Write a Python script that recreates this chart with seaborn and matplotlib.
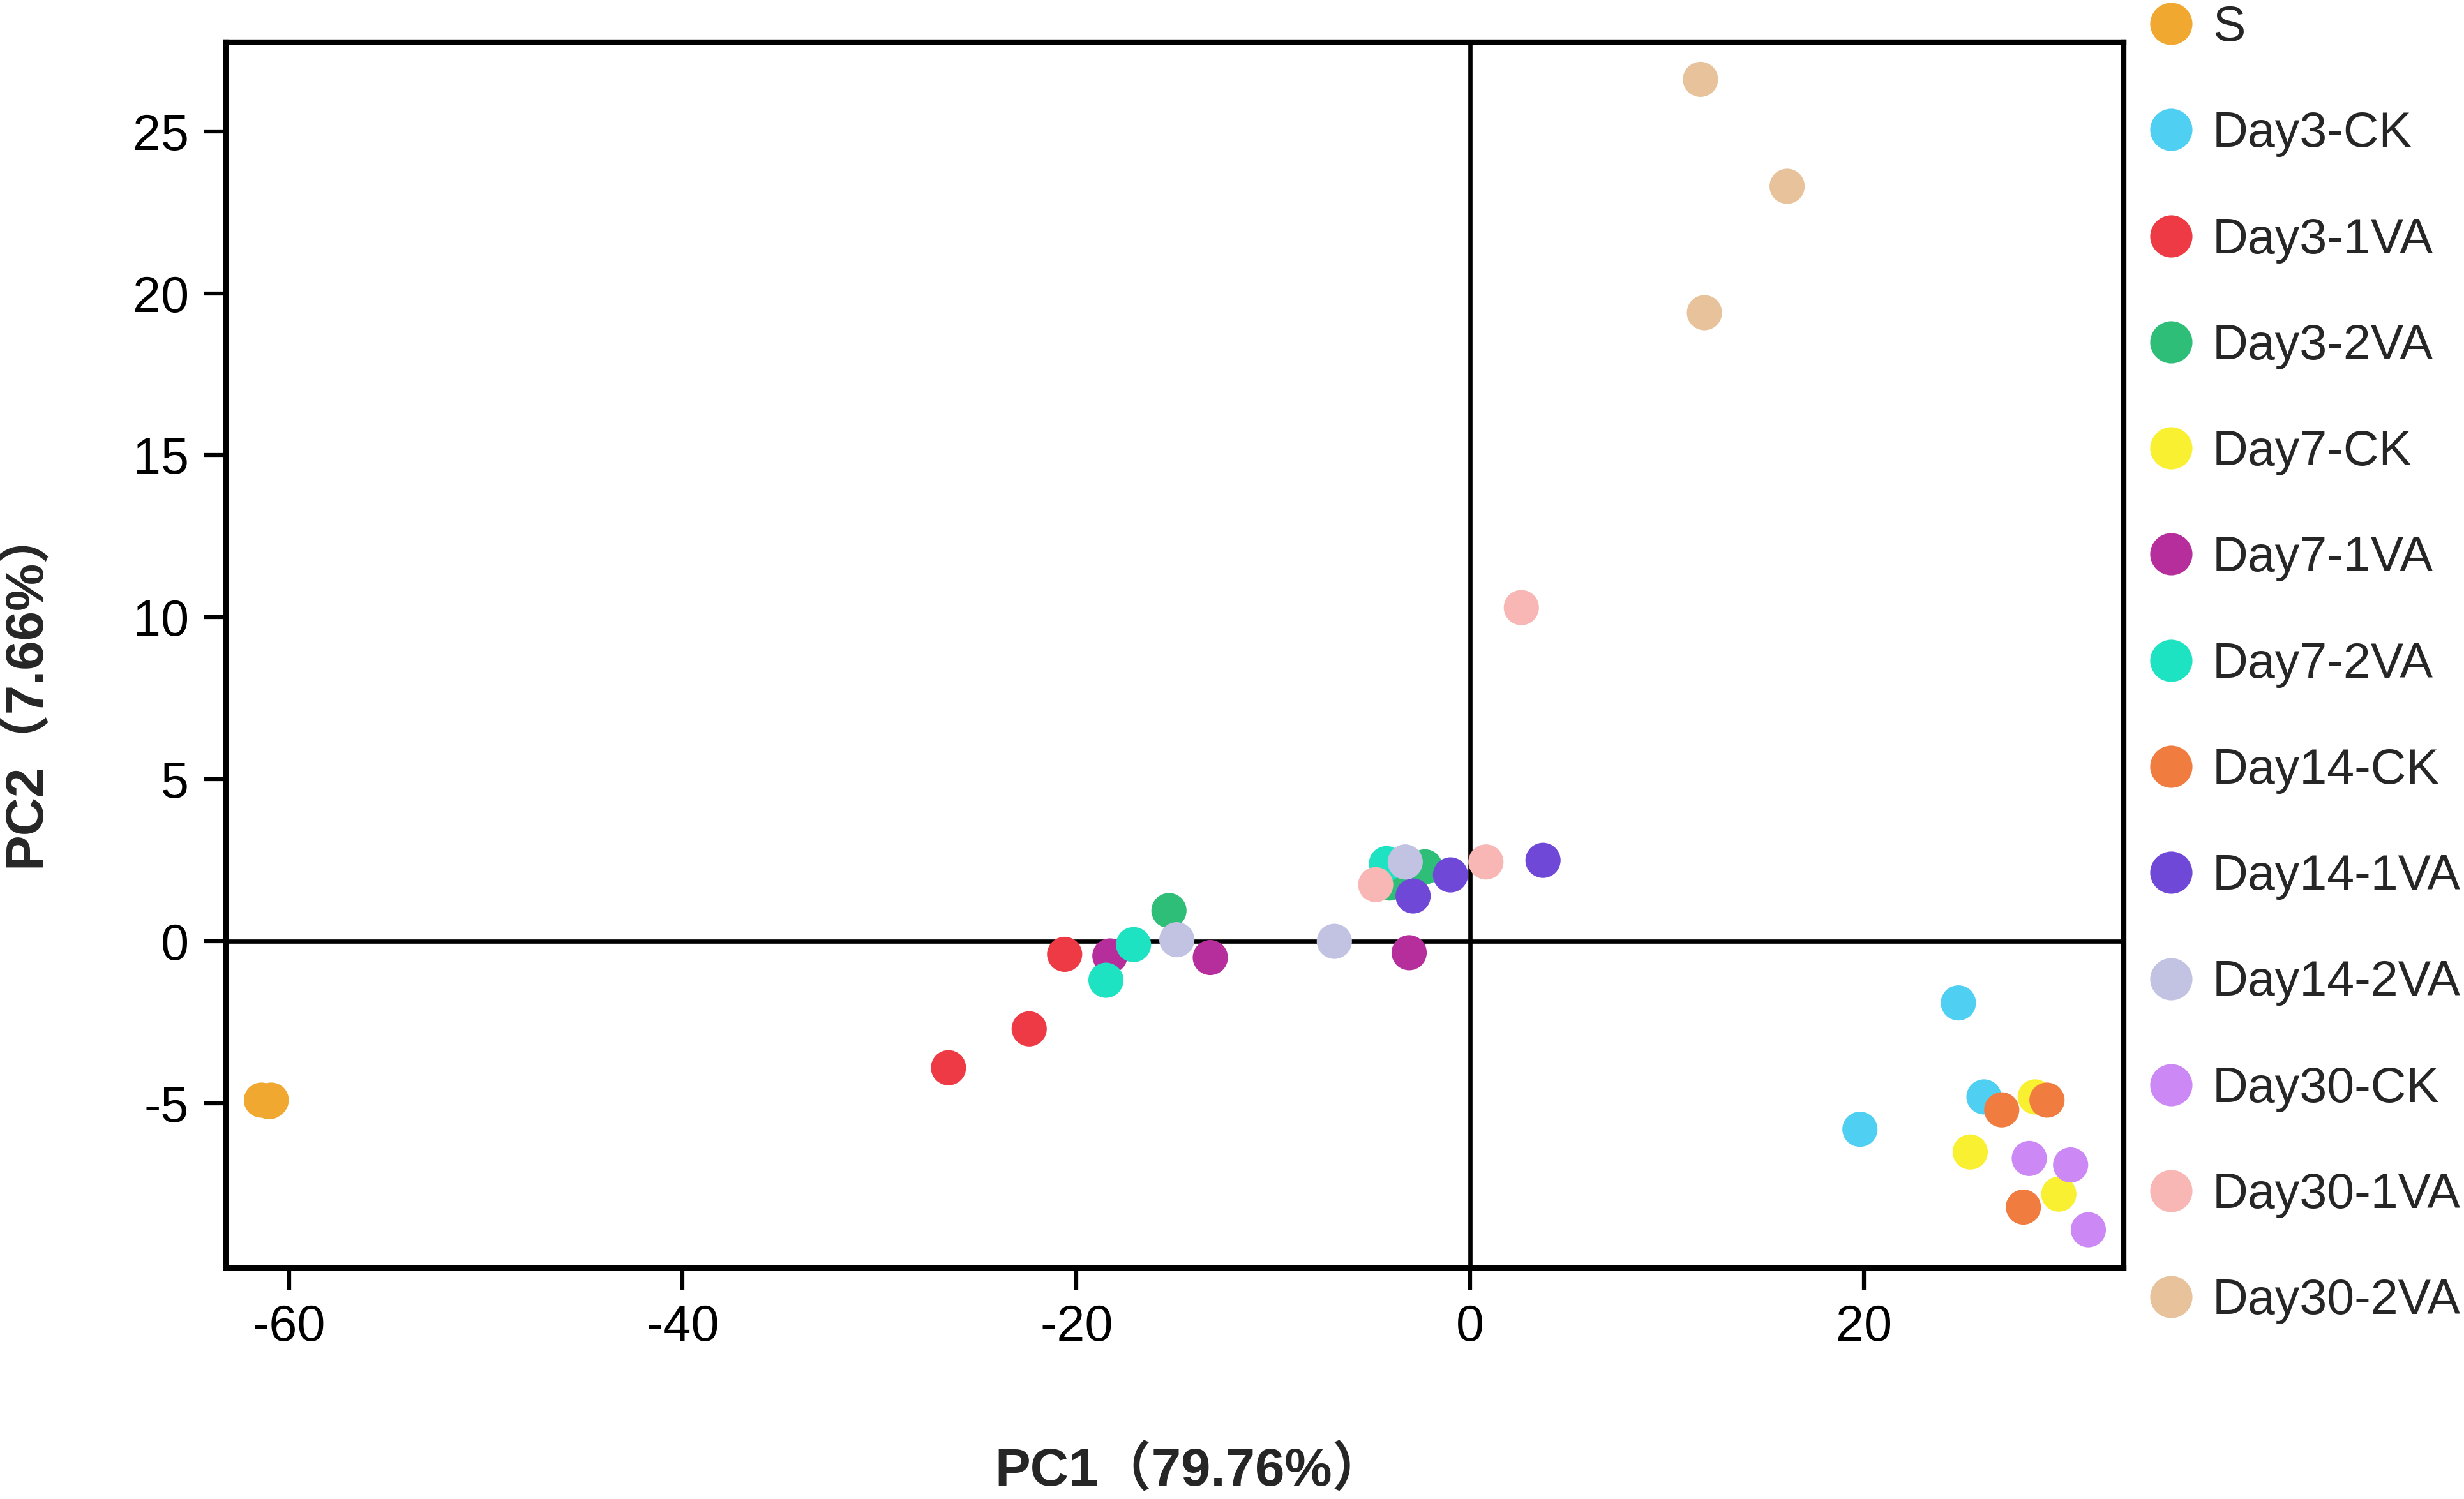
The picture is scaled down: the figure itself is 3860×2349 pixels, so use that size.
import matplotlib
matplotlib.use("Agg")
import matplotlib.pyplot as plt
import seaborn as sns
import pandas as pd

# ---------------- data ----------------
groups = ["S", "Day3-CK", "Day3-1VA", "Day3-2VA", "Day7-CK", "Day7-1VA", "Day7-2VA",
          "Day14-CK", "Day14-1VA", "Day14-2VA", "Day30-CK", "Day30-1VA", "Day30-2VA"]

colors = ["#F0A830", "#4FD0F2", "#EE3A45", "#2EBE78", "#F8F030", "#B52E9C", "#1EE3C2",
          "#F07C40", "#7048D8", "#C2C2E2", "#CC88F5", "#F8B6B4", "#E8C29A"]

pc1_S = [-61.4, -61.0, -60.9]
pc2_S = [-4.9, -4.95, -4.9]
pc1_d3ck = [24.8, 26.1, 19.8]
pc2_d3ck = [-1.9, -4.8, -5.8]
pc1_d31 = [-20.6, -22.4, -26.5]
pc2_d31 = [-0.4, -2.7, -3.9]
pc1_d32 = [-15.3, -2.3, -4.1]
pc2_d32 = [0.95, 2.3, 1.8]
pc1_d7ck = [28.7, 25.4, 29.9]
pc2_d7ck = [-4.8, -6.5, -7.8]
pc1_d71 = [-18.3, -13.2, -3.1]
pc2_d71 = [-0.45, -0.5, -0.35]
pc1_d72 = [-17.1, -18.5, -4.25]
pc2_d72 = [-0.1, -1.2, 2.4]
pc1_d14ck = [27.0, 29.3, 28.1]
pc2_d14ck = [-5.2, -4.9, -8.2]
pc1_d141 = [3.7, -1.0, -2.9]
pc2_d141 = [2.5, 2.05, 1.4]
pc1_d142 = [-14.9, -6.9, -3.3]
pc2_d142 = [0.05, 0.0, 2.45]
pc1_d30ck = [28.4, 30.5, 31.4]
pc2_d30ck = [-6.7, -6.9, -8.9]
pc1_d301 = [2.6, 0.8, -4.8]
pc2_d301 = [10.3, 2.45, 1.75]
pc1_d302 = [11.7, 16.1, 11.9]
pc2_d302 = [26.6, 23.3, 19.4]

pc1 = [pc1_S, pc1_d3ck, pc1_d31, pc1_d32, pc1_d7ck, pc1_d71, pc1_d72,
       pc1_d14ck, pc1_d141, pc1_d142, pc1_d30ck, pc1_d301, pc1_d302]
pc2 = [pc2_S, pc2_d3ck, pc2_d31, pc2_d32, pc2_d7ck, pc2_d71, pc2_d72,
       pc2_d14ck, pc2_d141, pc2_d142, pc2_d30ck, pc2_d301, pc2_d302]

xticks = [-60, -40, -20, 0, 20]
yticks = [-5, 0, 5, 10, 15, 20, 25]
xlabel = "PC1（79.76%）"
ylabel = "PC2（7.66%）"

rows = []
for g, xs, ys in zip(groups, pc1, pc2):
    for a, b in zip(xs, ys):
        rows.append({"group": g, "PC1": a, "PC2": b})
df = pd.DataFrame(rows)

# ---------------- style ----------------
sns.set_theme(style="ticks")
base = ["Liberation Sans Narrow", "Liberation Sans", "Noto Sans CJK SC", "DejaVu Sans"]
plt.rcParams["font.family"] = base

W, H, DPI = 3861, 2349, 300
fig = plt.figure(figsize=(W / DPI, H / DPI), dpi=DPI)
ax = fig.add_axes([354 / W, 1 - 1987 / H, (3327 - 354) / W, (1987 - 66) / H])

ax.axhline(0, color="black", lw=1.6, zorder=1)
ax.axvline(0, color="black", lw=1.6, zorder=1)

sns.scatterplot(data=df, x="PC1", y="PC2", hue="group", hue_order=groups,
                palette=colors, s=175, linewidth=0, edgecolor="none", alpha=1,
                ax=ax, zorder=3, legend=True)

ax.set_xlim(-63.2, 33.2)
ax.set_ylim(-10.08, 27.75)
ax.set_xticks(xticks)
ax.set_yticks(yticks)
ax.set_xticklabels([str(t) for t in xticks])
ax.set_yticklabels([str(t) for t in yticks])

for sp in ax.spines.values():
    sp.set_linewidth(2.0)
    sp.set_color("black")
    sp.set_visible(True)

ax.tick_params(axis="both", direction="out", length=8.5, width=1.5, color="black",
               labelsize=19, labelcolor="black")
ax.tick_params(axis="x", pad=5)
ax.tick_params(axis="y", pad=5.5)

lab_family = ["Liberation Sans Narrow", "Liberation Sans", "Noto Sans CJK SC"]
ax.set_xlabel(xlabel, fontsize=20, fontweight="bold", family=lab_family)
ax.set_ylabel(ylabel, fontsize=20, fontweight="bold", family=lab_family)
ax.xaxis.set_label_coords(0.508, -0.1447)
ax.yaxis.set_label_coords(-0.0925, 0.474)

sns.move_legend(ax, loc="upper left", bbox_to_anchor=(3362 / W, 0.997),
                bbox_transform=fig.transFigure, frameon=False, title=None,
                markerscale=1.2, labelspacing=1.21, handletextpad=0.35,
                handlelength=1.0, borderpad=0, borderaxespad=0,
                prop={"family": ["Liberation Sans", "DejaVu Sans"], "size": 18.5})

fig.savefig("out.png", dpi=DPI, facecolor="white")
